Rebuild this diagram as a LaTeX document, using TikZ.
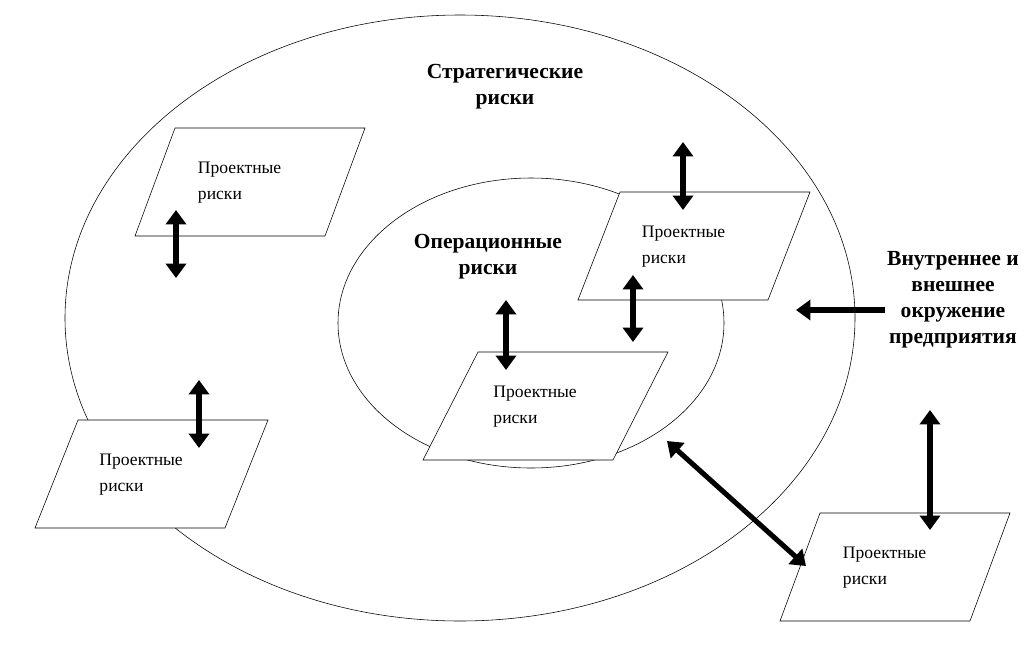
\documentclass[tikz,border=0pt]{standalone}
\usepackage{fontspec}
\setmainfont{Liberation Serif}
\usetikzlibrary{arrows.meta}

\tikzset{
    link/.style={line width=3.6pt, {Triangle[length=0.36cm,width=0.5cm]}-{Triangle[length=0.36cm,width=0.5cm]}},
    label text/.style={font=\fontsize{15.3}{18.4}\selectfont\bfseries, align=center},
}

\begin{document}
\begin{tikzpicture}[x=0.025cm, y=-0.025cm, font=\fontsize{12.5}{18.4}\selectfont]
% Variables: 1 := top-left corner, 2 := slant, 3 := ID.
\def\proj(#1)#2#3{
    \begin{scope}[shift={(#1)}]
        \draw[fill=white] (0,0) -- (190,0) -- ({190-#2},108) -- ({-#2},108) -- cycle;
        \node[right, align=left] (#3) at ({38-#2/2},55) {Проектные\\риски};
    \end{scope}
}
\useasboundingbox (0,0) rectangle (1035,647);
\draw (460,318) ellipse [x radius=395, y radius=303];
\draw (531,323) ellipse [x radius=193, y radius=145];

\proj(175,128){40}{P1}
\proj(620,192){42}{P2}
\proj(478,352){55}{P3}
\proj(78,420){43}{P4}
\proj(820,513){40}{P5}

\node[label text] (strat) at (505,87) {Стратегические\\риски};
\node[label text] (oper) at (488,257) {Операционные\\риски};
\node[label text] (env) at (953,300) {Внутреннее и\\внешнее\\окружение\\предприятия};

\draw[link] (176,210) -- (176,278);
\draw[link] (683,142) -- (683,210);
\draw[link] (633,275) -- (633,342);
\draw[link] (506,300) -- (506,370);
\draw[link] (199,380) -- (199,448);
\draw[link] (667,441) -- (806,566);
\draw[link] (930,410) -- (930,530);
\draw[line width=3.6pt, -{Triangle[length=0.36cm,width=0.5cm]}] (885,310) -- (796,310);
\end{tikzpicture}
\end{document}
